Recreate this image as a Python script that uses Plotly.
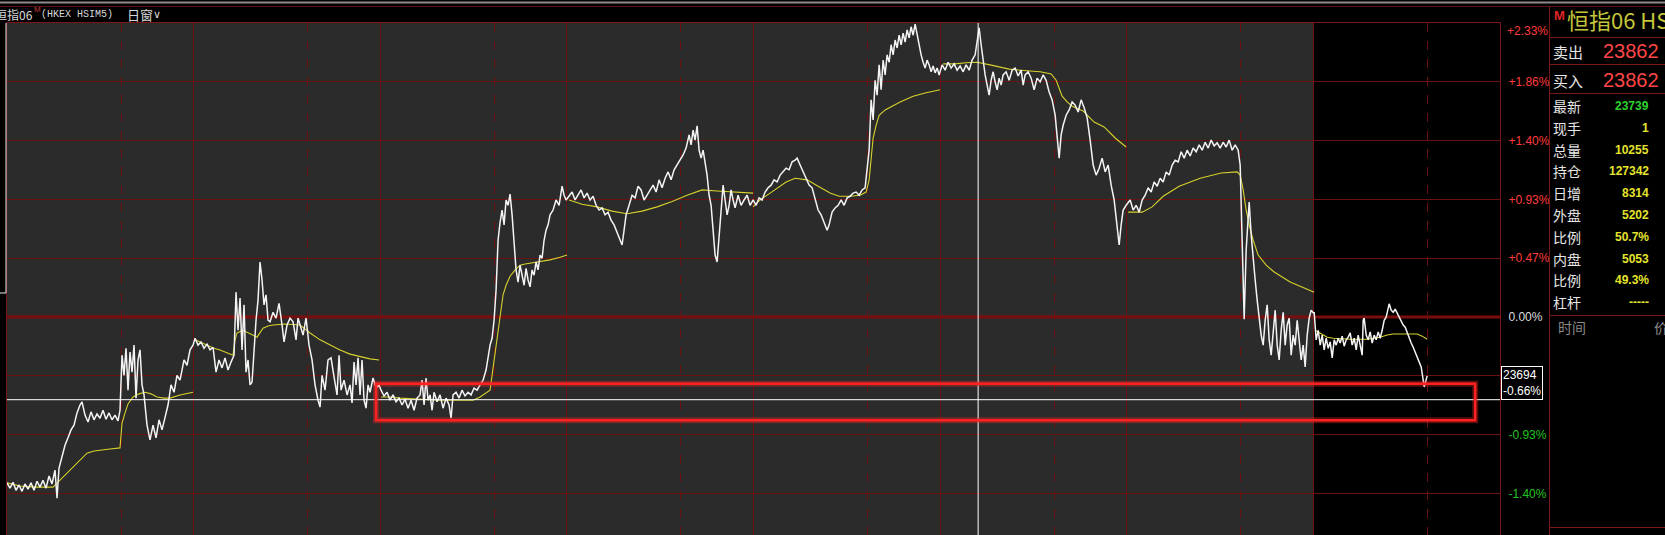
import plotly.graph_objects as go

# ---------------- data ----------------
BASE_PRICE = 23850      # previous settlement -> 0.00%
GRID_STEP = 111         # price distance between horizontal grid lines
DAY_LEN = 373.2         # time units per trading day
DASH_OFFSET = 228       # intraday dashed marker position inside each day
N_DAYS = 8
GRAY_DAYS = 7           # history days drawn on grey background

grid_levels = [-3, -2, -1, 0, 1, 2, 3, 4]
# the -0.47% label is hidden behind the crosshair price box in the original
grid_labels = ['-1.40%', '-0.93%', '', '0.00%', '+0.47%', '+0.93%', '+1.40%', '+1.86%']
top_level = 5
top_label = '+2.33%'

# price line (time, price) per day
day1_price = [(0,23537),(6,23527),(12,23538),(18,23523),(24,23533),(30,23521),(36,23535),(42,23525),(48,23537),(54,23523),
              (60,23540),(66,23529),(72,23542),(78,23527),(84,23550),(90,23535),(96,23561),(100,23508),(104,23565),(110,23589),
              (116,23608),(122,23622),(128,23637),(134,23646),(140,23669),(146,23684),(150,23690),(156,23665),(162,23652),(168,23671),
              (174,23656),(180,23667),(186,23659),(192,23674),(198,23657),(204,23669),(210,23656),(216,23665),(222,23654),(226,23674),
              (230,23778),(234,23740),(238,23791),(242,23712),(246,23784),(250,23746),(254,23797),(258,23697),(262,23769),(266,23788),
              (270,23722),(274,23703),(280,23646),(286,23618),(292,23646),(298,23622),(304,23656),(310,23637),(316,23661),(322,23684),
              (328,23722),(334,23708),(340,23740),(346,23731),(354,23769),(360,23759),(366,23788),(372,23797)]
day2_price = [(376,23810),(382,23797),(388,23803),(394,23791),(400,23799),(406,23788),(412,23793),(418,23746),(424,23769),(430,23754),
              (436,23773),(442,23750),(448,23765),(454,23778),(458,23897),(462,23825),(466,23886),(470,23788),(474,23873),(478,23746),
              (482,23769),(486,23722),(490,23727),(494,23788),(498,23844),(502,23882),(506,23954),(510,23920),(514,23873),(518,23892),
              (522,23844),(526,23841),(532,23859),(538,23848),(544,23876),(550,23835),(554,23803),(560,23835),(566,23848),(572,23841),
              (578,23807),(582,23848),(586,23835),(592,23816),(598,23848),(604,23797),(610,23769),(616,23722),(622,23693),(626,23680),
              (630,23740),(636,23712),(642,23769),(648,23773),(654,23737),(660,23703),(664,23778),(668,23712),(674,23731),(680,23703),
              (686,23722),(690,23688),(694,23765),(698,23722),(702,23773),(706,23703),(710,23769),(714,23693),(718,23678),(722,23722),
              (726,23708),(732,23735),(738,23716),(744,23722)]
day3_price = [(748,23712),(754,23701),(760,23708),(766,23693),(772,23703),(778,23690),(784,23697),(790,23684),(796,23695),(802,23678),
              (808,23693),(814,23674),(820,23697),(826,23703),(830,23731),(834,23684),(838,23735),(842,23693),(846,23703),(850,23674),
              (854,23708),(860,23690),(866,23703),(872,23678),(878,23697),(884,23684),(888,23659),(892,23703),(898,23708),(904,23697),
              (910,23712),(916,23701),(922,23708),(928,23703),(934,23716),(940,23712),(946,23722),(952,23731),(958,23750),(962,23778),
              (966,23797),(970,23810),(974,23844),(978,23901),(982,23995),(986,24029),(990,24052),(994,24024),(998,24071),(1002,24061),
              (1006,24082),(1010,24043),(1014,23995),(1018,23939),(1022,23916),(1026,23948),(1030,23929),(1034,23910),(1038,23942),(1042,23920),
              (1046,23907),(1050,23939),(1054,23929),(1058,23954),(1062,23939),(1066,23967),(1070,23961),(1074,23995),(1078,24014),(1082,24024),
              (1086,24043),(1092,24052),(1098,24071),(1104,24061),(1110,24097),(1114,24080),(1118,24071)]
day4_price = [(1124,24078),(1130,24086),(1136,24071),(1142,24080),(1148,24090),(1154,24075),(1160,24084),(1166,24071),(1172,24078),(1178,24061),
              (1184,24052),(1190,24056),(1196,24043),(1202,24048),(1208,24033),(1214,24024),(1220,24011),(1226,23995),(1230,23986),(1234,24014),
              (1238,24043),(1244,24061),(1250,24080),(1256,24075),(1262,24097),(1268,24090),(1274,24071),(1280,24080),(1286,24090),(1292,24099),
              (1298,24086),(1304,24109),(1310,24094),(1316,24112),(1322,24124),(1328,24109),(1334,24128),(1340,24137),(1346,24146),(1352,24156),
              (1358,24169),(1364,24194),(1368,24175),(1372,24203),(1376,24184),(1380,24211),(1384,24165),(1388,24150),(1392,24165),(1396,24143),
              (1400,24118),(1404,24080),(1408,24061),(1412,24014),(1416,23967),(1420,23954),(1424,24005),(1428,24052),(1432,24099),(1436,24071),
              (1440,24043),(1444,24061),(1448,24090),(1452,24071),(1456,24056),(1462,24080),(1468,24061),(1474,24071),(1480,24080),(1486,24061),
              (1492,24071)]
day5_price = [(1498,24061),(1504,24075),(1510,24071),(1516,24086),(1522,24094),(1528,24099),(1534,24109),(1540,24105),(1546,24118),(1552,24124),
              (1558,24131),(1564,24128),(1570,24143),(1576,24146),(1580,24150),(1586,24137),(1592,24124),(1598,24112),(1604,24099),(1610,24094),
              (1616,24071),(1622,24052),(1628,24043),(1634,24029),(1640,24014),(1644,24024),(1650,24048),(1656,24056),(1662,24061),(1668,24071),
              (1674,24061),(1680,24075),(1686,24078),(1692,24084),(1698,24086),(1704,24080),(1710,24090),(1716,24094),(1720,24128),(1724,24165),
              (1728,24260),(1732,24222),(1736,24297),(1740,24269),(1744,24326),(1748,24279),(1752,24335),(1756,24307),(1760,24345),(1764,24331),
              (1768,24364),(1772,24345),(1776,24373),(1780,24358),(1784,24382),(1788,24364),(1792,24386),(1796,24369),(1800,24392),(1804,24377),
              (1808,24398),(1812,24382),(1816,24403),(1820,24382),(1824,24364),(1828,24345),(1832,24331),(1836,24320),(1840,24335),(1844,24326),
              (1848,24313),(1852,24324),(1856,24311),(1860,24320),(1864,24307)]
day6_price = [(1870,24326),(1876,24316),(1882,24331),(1888,24320),(1894,24328),(1900,24316),(1906,24324),(1912,24313),(1918,24326),(1924,24316),
              (1930,24335),(1936,24345),(1940,24373),(1944,24396),(1948,24364),(1952,24331),(1956,24307),(1960,24288),(1964,24269),(1968,24297),
              (1972,24313),(1976,24294),(1980,24279),(1984,24301),(1988,24288),(1992,24307),(1998,24313),(2004,24297),(2010,24316),(2016,24320),
              (2022,24305),(2028,24316),(2032,24288),(2036,24307),(2042,24313),(2048,24301),(2054,24279),(2060,24301),(2066,24294),(2072,24307),
              (2078,24297),(2084,24275),(2090,24260),(2096,24231),(2100,24184),(2104,24150),(2108,24194),(2112,24212),(2118,24231),(2124,24241),
              (2130,24256),(2136,24250),(2142,24237),(2148,24260),(2154,24245),(2160,24226),(2166,24184),(2172,24137),(2178,24118),(2184,24131),
              (2190,24150),(2196,24124),(2202,24137),(2208,24099),(2214,24071),(2220,24014),(2224,23986),(2228,24024),(2232,24052),(2238,24061)]
day7_price = [(2246,24071),(2252,24052),(2258,24061),(2264,24048),(2270,24071),(2276,24080),(2282,24094),(2288,24086),(2294,24105),(2300,24097),
              (2306,24112),(2312,24105),(2318,24124),(2324,24118),(2330,24137),(2336,24146),(2342,24143),(2348,24162),(2354,24150),(2360,24165),
              (2366,24154),(2372,24169),(2378,24162),(2384,24175),(2390,24165),(2396,24180),(2402,24169),(2408,24184),(2414,24173),(2420,24179),
              (2426,24169),(2432,24180),(2438,24171),(2444,24184),(2450,24165),(2456,24175),(2462,24165),(2466,24137),(2470,24007),(2474,23846),
              (2478,23977),(2482,24043),(2484,24067),(2488,24005),(2492,23958),(2496,23920),(2500,23882),(2504,23848),(2508,23816),(2512,23797),
              (2516,23844),(2520,23873),(2524,23807),(2528,23778),(2532,23825),(2536,23863),(2540,23797),(2544,23769),(2548,23825),(2552,23859),
              (2556,23797),(2560,23835),(2564,23848),(2568,23778),(2572,23816),(2576,23797),(2580,23844),(2584,23807),(2588,23769),(2592,23797),
              (2596,23756),(2600,23816),(2604,23848),(2608,23863),(2612,23858)]
day8_price = [(2614,23858),(2618,23807),(2622,23825),(2626,23797),(2630,23816),(2634,23788),(2638,23810),(2642,23791),(2646,23803),(2650,23773),
              (2654,23807),(2658,23797),(2662,23810),(2666,23801),(2670,23814),(2674,23795),(2678,23807),(2682,23812),(2686,23820),(2690,23797),
              (2694,23810),(2698,23788),(2702,23816),(2706,23797),(2710,23778),(2712,23844),(2714,23848),(2718,23816),(2722,23807),(2726,23822),
              (2730,23801),(2734,23816),(2738,23807),(2742,23822),(2746,23810),(2750,23825),(2754,23844),(2758,23850),(2762,23869),(2764,23875),
              (2768,23863),(2772,23859),(2776,23865),(2780,23858),(2784,23848),(2788,23841),(2792,23835),(2796,23831),(2800,23820),(2804,23810),
              (2808,23801),(2812,23793),(2816,23784),(2820,23773),(2824,23765),(2828,23756),(2832,23731),(2834,23718),(2836,23725),(2840,23739)]

# average price line (time, price) per day
day1_avg = [(0,23537),(26,23531),(56,23529),(92,23529),(106,23542),(120,23555),(134,23569),(146,23580),(160,23593),(174,23597),
            (186,23599),(206,23601),(226,23603),(230,23650),(236,23669),(242,23686),(252,23699),(264,23705),(276,23708),(288,23705),
            (300,23699),(314,23697),(326,23697),(346,23703),(372,23708)]
day2_avg = [(376,23807),(386,23803),(400,23797),(414,23791),(426,23788),(440,23782),(452,23778),(456,23807),(460,23820),(472,23825),
            (486,23818),(500,23812),(512,23829),(522,23833),(532,23835),(556,23837),(586,23835),(606,23820),(626,23807),(646,23797),
            (666,23788),(686,23780),(706,23775),(726,23771),(744,23769)]
day3_avg = [(748,23699),(766,23699),(786,23697),(826,23695),(866,23693),(906,23693),(932,23693),(946,23699),(960,23707),(966,23712),
            (970,23740),(974,23769),(980,23812),(986,23854),(992,23892),(998,23910),(1006,23927),(1016,23939),(1026,23948),(1036,23950),
            (1048,23952),(1066,23954),(1086,23958),(1106,23963),(1120,23967)]
day4_avg = [(1124,24071),(1150,24063),(1180,24058),(1210,24050),(1240,24045),(1270,24050),(1300,24058),(1330,24068),(1360,24080),
            (1390,24090),(1420,24088),(1450,24086),(1492,24084)]
day5_avg = [(1492,24058),(1506,24071),(1526,24084),(1546,24097),(1558,24105),(1576,24112),(1600,24109),(1622,24097),(1646,24084),
            (1664,24078),(1686,24078),(1706,24080),(1718,24086),(1724,24109),(1728,24146),(1732,24188),(1738,24212),(1744,24231),
            (1756,24241),(1770,24248),(1786,24256),(1812,24267),(1836,24273),(1866,24279)]
day6_avg = [(1872,24328),(1896,24328),(1918,24330),(1940,24331),(1966,24326),(1986,24322),(2004,24318),(2026,24316),(2066,24313),
            (2088,24309),(2098,24297),(2110,24267),(2120,24256),(2130,24248),(2152,24239),(2174,24218),(2194,24209),(2216,24188),
            (2226,24180),(2238,24171)]
day7_avg = [(2242,24048),(2270,24048),(2290,24058),(2312,24078),(2344,24097),(2386,24112),(2428,24122),(2460,24124),(2466,24118),
            (2472,24090),(2478,24052),(2484,24024),(2492,23995),(2502,23967),(2518,23948),(2534,23935),(2566,23916),(2614,23897)]
day8_avg = [(2616,23825),(2626,23820),(2640,23812),(2652,23810),(2686,23808),(2720,23808),(2746,23812),(2760,23816),(2772,23818),
            (2796,23818),(2820,23818),(2830,23814),(2840,23808)]

cross_time = 1942
cross_price = 23694
cross_pct = '-0.66%'
box_time = (738, 2936)
box_price = (23655, 23724)

title_name = '恒指06'
title_code = '(HKEX HSIM5)'
title_window = '日窗'
panel_title = '恒指06 HSIM5'
ask_bid = [('卖出', '23862'), ('买入', '23862')]
quote_labels = ['最新', '现手', '总量', '持仓', '日增', '外盘', '比例', '内盘', '比例', '杠杆']
quote_values = ['23739', '1', '10255', '127342', '8314', '5202', '50.7%', '5053', '49.3%', '-----']
quote_colors = ['#2fd02f'] + ['#e4e42c'] * 9

# ---------------- figure ----------------
W, H = 1665, 535
L, R, T, B = 7, 165, 23, 0
PW, PH = W - L - R, H - T - B
CJK = 'Noto Sans CJK SC'
SANS = 'Liberation Sans'


def px2x(px):
    return (px - L) / PW


def py2y(py):
    return (H - B - py) / PH


price_t, price_v = [], []
for d in [day1_price, day2_price, day3_price, day4_price, day5_price, day6_price, day7_price, day8_price]:
    for t, v in d:
        price_t.append(t)
        price_v.append(v)

avg_t, avg_v = [], []
for d in [day1_avg, day2_avg, day3_avg, day4_avg, day5_avg, day6_avg, day7_avg, day8_avg]:
    for t, v in d:
        avg_t.append(t)
        avg_v.append(v)
    avg_t.append(None)
    avg_v.append(None)

y_per_px = GRID_STEP / 58.8
y_top = BASE_PRICE + top_level * GRID_STEP + 0.1
y_bot = y_top - PH * y_per_px

fig = go.Figure()
fig.add_trace(go.Scatter(x=avg_t, y=avg_v, mode='lines', line=dict(color='#d6d12c', width=1.1),
                         hoverinfo='skip', connectgaps=False))
fig.add_trace(go.Scatter(x=price_t, y=price_v, mode='lines', line=dict(color='#f4f4f4', width=1.5),
                         hoverinfo='skip'))


def lab_color(lbl):
    if lbl.startswith('+'):
        return '#ff3c3c'
    if lbl.startswith('-'):
        return '#22c422'
    return '#dcdcdc'


grid_color = '#6a1212'
fig.update_xaxes(range=[0, N_DAYS * DAY_LEN], showticklabels=False, ticks='',
                 tickvals=[k * DAY_LEN for k in range(N_DAYS + 1)],
                 showgrid=True, gridcolor=grid_color, gridwidth=1, zeroline=False,
                 showline=True, linecolor='#7a1616', linewidth=1, mirror=True,
                 minor=dict(tickvals=[k * DAY_LEN + DASH_OFFSET for k in range(N_DAYS)],
                            showgrid=True, gridcolor=grid_color, griddash='dash', gridwidth=1, ticks=''))
fig.update_yaxes(range=[y_bot, y_top], side='right', ticks='',
                 tickvals=[BASE_PRICE + k * GRID_STEP for k in grid_levels],
                 ticktext=[f"<span style='color:{lab_color(l)}'>{l}</span>" if l else ' ' for l in grid_labels],
                 tickfont=dict(family=SANS, size=12), ticklabelstandoff=5,
                 showgrid=True, gridcolor=grid_color, gridwidth=1, zeroline=False,
                 showline=True, linecolor='#7a1616', linewidth=1, mirror=True)

shapes = []
# grey history background
shapes.append(dict(type='rect', xref='x', yref='paper', x0=0, x1=GRAY_DAYS * DAY_LEN, y0=0, y1=1,
                   fillcolor='#2b2b2b', line=dict(width=0), layer='below'))
# 0% reference line
shapes.append(dict(type='line', xref='paper', yref='y', x0=0, x1=1, y0=BASE_PRICE, y1=BASE_PRICE,
                   line=dict(color='#860a0a', width=3), layer='between'))
# crosshair
shapes.append(dict(type='line', xref='x', yref='paper', x0=cross_time, x1=cross_time, y0=0, y1=1,
                   line=dict(color='#ffffff', width=1)))
shapes.append(dict(type='line', xref='paper', yref='y', x0=0, x1=1, y0=cross_price, y1=cross_price,
                   line=dict(color='#ffffff', width=1)))
# red highlight box (glow + line)
shapes.append(dict(type='rect', xref='x', yref='y', x0=box_time[0], x1=box_time[1], y0=box_price[0], y1=box_price[1],
                   line=dict(color='rgba(255,40,40,0.35)', width=6)))
shapes.append(dict(type='rect', xref='x', yref='y', x0=box_time[0], x1=box_time[1], y0=box_price[0], y1=box_price[1],
                   line=dict(color='#ff2222', width=2.5)))
# title bar lines
shapes.append(dict(type='line', xref='paper', yref='paper', x0=px2x(0), x1=px2x(W), y0=py2y(2.5), y1=py2y(2.5),
                   line=dict(color='#8c8c8c', width=2)))
shapes.append(dict(type='line', xref='paper', yref='paper', x0=px2x(0), x1=px2x(W), y0=py2y(6.5), y1=py2y(6.5),
                   line=dict(color='#5c1212', width=1)))
# right panel frame
shapes.append(dict(type='line', xref='paper', yref='paper', x0=px2x(1549.5), x1=px2x(1549.5), y0=py2y(6.5), y1=py2y(H),
                   line=dict(color='#7a1818', width=1)))
for py in [37.5, 64.5, 93.5, 315.5, 527.5]:
    shapes.append(dict(type='line', xref='paper', yref='paper', x0=px2x(1549.5), x1=px2x(W), y0=py2y(py), y1=py2y(py),
                       line=dict(color='#7a1818', width=1)))
# left panel edge
shapes.append(dict(type='line', xref='paper', yref='paper', x0=px2x(6), x1=px2x(6), y0=py2y(23), y1=py2y(293),
                   line=dict(color='#e8e8e8', width=1)))
shapes.append(dict(type='line', xref='paper', yref='paper', x0=px2x(0), x1=px2x(6), y0=py2y(293), y1=py2y(293),
                   line=dict(color='#e8e8e8', width=1)))

ann = []


def text(px, py, s, size, color, family=CJK, xanchor='left', bold=False):
    if bold:
        s = f'<b>{s}</b>'
    ann.append(dict(xref='paper', yref='paper', x=px2x(px), y=py2y(py), text=s, showarrow=False,
                    xanchor=xanchor, yanchor='middle', font=dict(family=family, size=size, color=color)))


# title bar
text(-7, 14, title_name, 12, '#d8d8d8')
text(32, 9, 'M', 8, '#c23a3a', family=SANS)
text(39, 14, title_code, 10, '#d8d8d8', family='Liberation Mono')
text(125, 14, title_window, 13, '#d8d8d8')
text(151, 14, '∨', 11, '#d8d8d8', family='DejaVu Sans')

# top axis label
ann.append(dict(xref='paper', yref='y', x=px2x(1505), y=BASE_PRICE + top_level * GRID_STEP, yshift=-8,
                text=top_label, showarrow=False, xanchor='left', yanchor='middle',
                font=dict(family=SANS, size=12, color=lab_color(top_label))))

# crosshair price label
ann.append(dict(xref='paper', yref='y', x=px2x(1501), y=cross_price, text=f'{cross_price}<br>{cross_pct}',
                showarrow=False, xanchor='left', yanchor='bottom', align='left',
                font=dict(family=SANS, size=12, color='#ffffff'), bgcolor='#000000',
                bordercolor='#ffffff', borderwidth=1, borderpad=1))

# right quote panel
text(1552, 15, 'M', 13, '#e02424', family=SANS, bold=True)
text(1565, 19, panel_title, 22, '#c6c63a')
for i, (lbl, val) in enumerate(ask_bid):
    py = 51 + i * 29
    text(1551, py, lbl, 15, '#e6e6e6')
    text(1661, py, val, 20, '#ff4646', family=SANS, xanchor='right')
for i, (lbl, val, col) in enumerate(zip(quote_labels, quote_values, quote_colors)):
    py = 106 + i * 21.8
    text(1551, py, lbl, 14, '#e6e6e6')
    text(1651, py, val, 12, col, family=SANS, xanchor='right', bold=True)
text(1556, 327, '时间', 14, '#8a8a8a')
text(1652, 327, '价', 14, '#8a8a8a')

fig.update_layout(width=W, height=H, margin=dict(l=L, r=R, t=T, b=B, pad=0),
                  paper_bgcolor='#000000', plot_bgcolor='#000000', showlegend=False,
                  shapes=shapes, annotations=ann)
fig.write_html('out.html', config={'displayModeBar': False},
               post_script="document.body.style.margin='0';document.body.style.background='#000';"
                           "document.body.style.overflow='hidden';")
